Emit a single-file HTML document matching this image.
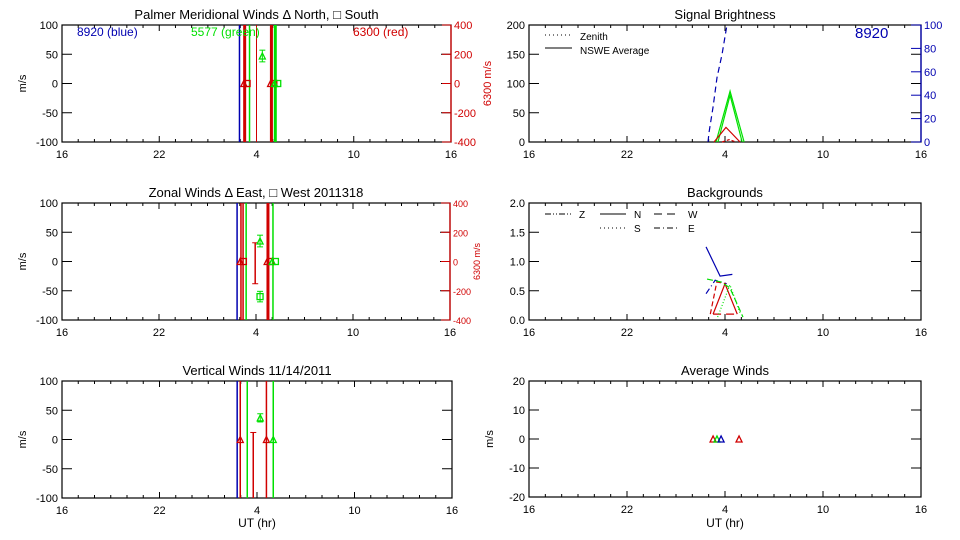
<!DOCTYPE html>
<html><head><meta charset="utf-8">
<style>
html,body{margin:0;padding:0;background:#fff;width:960px;height:540px;overflow:hidden}
svg{display:block;font-family:"Liberation Sans",sans-serif}
</style></head>
<body>
<svg id="chart" width="960" height="540" viewBox="0 0 960 540"></svg>
<script>
// ---------- data (hours: 16..40, where 28 = 04 UT) ----------
const xTickLabels = ["16","22","4","10","16"];
const mwTickLabels = ["-100","-50","0","50","100"];
const redAxisLabels = ["-400","-200","0","200","400"];
// Meridional
const merVLinesHr = [26.95,27.27,27.57,28.0,28.92,29.16];
const merVLinesColor = ["blue","red","green","red","red","green"];
const merVLinesWidth = [1.5,3,1.5,1,3,3];
const merPtsHr = [28.36];
const merPtsVal = [47];
const merPtsErr = [10];
const merZeroHr = [27.27,28.92,29.16];
const merZeroColor = ["red","red","green"];
// Zonal
const zonVLinesHr = [26.83,27.07,27.2,27.39,28.74,29.05];
const zonVLinesColor = ["blue","red","red","green","red","green"];
const zonVLinesWidth = [1.5,1.5,1.5,1.5,3,1.5];
const zonErrHr = [27.95];
const zonErrLo = [-38];
const zonErrHi = [32];
const zonPtsHr = [28.25,28.25];
const zonPtsVal = [35,-60];
const zonPtsErr = [10,9];
const zonZeroHr = [27.07,28.74,29.05];
const zonZeroColor = ["red","red","green"];
// Vertical
const verVLinesHr = [26.78,26.97,27.4,28.58,29.0];
const verVLinesColor = ["blue","red","green","red","green"];
const verErrHr = [27.77];
const verErrHi = [12];
const verPtsHr = [28.2];
const verPtsVal = [37];
const verPtsErr = [7];
const verZeroHr = [26.97,28.58,29.0];
const verZeroColor = ["red","red","green"];
// Signal brightness
const sigBlueHr = [26.96,27.02,27.27,27.51,27.82,28.12];
const sigBlueVal = [0,8,30,55,75,100];
const sigGreenHr = [27.45,28.31,29.17];
const sigGreenVal = [0,87,0];
const sigGreen2Hr = [27.57,28.31,29.05];
const sigGreen2Val = [0,80,0];
const sigRedHr = [27.33,28.06,28.92];
const sigRedVal = [0,25,0];
const sigRed2Hr = [27.82,28.25,28.68];
const sigRed2Val = [0,4,0];
// Backgrounds
const bgBlue1Hr = [26.84,27.7,28.45];
const bgBlue1Val = [1.25,0.75,0.78];
const bgBlue2Hr = [26.84,27.4,28.1];
const bgBlue2Val = [0.45,0.68,0.62];
const bgRed1Hr = [27.27,28.0,28.75];
const bgRed1Val = [0.1,0.62,0.1];
const bgRed2Hr = [27.1,27.5,28.0];
const bgRed2Val = [0.1,0.65,0.62];
const bgRed3Hr = [27.27,28.75];
const bgRed3Val = [0.1,0.1];
const bgGreen1Hr = [26.9,27.75,28.3,29.1];
const bgGreen1Val = [0.7,0.65,0.55,0.05];
const bgGreen2Hr = [27.55,28.3,28.95];
const bgGreen2Val = [0.05,0.6,0.1];
// Average winds
const avgHr = [27.27,27.51,27.76,28.86];
const avgVal = [0,0,0,0];
const avgColor = ["red","green","blue","red"];

const COL = {red:"#d00000", green:"#00e000", blue:"#0000b0", black:"#000"};
const NS = "http://www.w3.org/2000/svg";
const svg = document.getElementById("chart");
function mk(tag, attrs, parent, text){
  const e = document.createElementNS(NS, tag);
  for (const k in attrs) e.setAttribute(k, attrs[k]);
  if (text !== undefined) e.textContent = text;
  (parent||svg).appendChild(e);
  return e;
}
function panel(name, x0, x1, y0, y1, ymin, ymax, yticks, ylabels, title, ylabel){
  const g = mk("g", {});
  
  
  const sx = h => x0 + (h-16)/24*(x1-x0);
  const sy = v => y1 - (v-ymin)/(ymax-ymin)*(y1-y0);
  mk("rect",{x:x0,y:y0,width:x1-x0,height:y1-y0,fill:"none",stroke:"#000","stroke-width":1.2},g);
  for (let h=16; h<=40; h++){
    const major = (h-16)%6===0;
    const L = major?6:3;
    mk("line",{x1:sx(h),x2:sx(h),y1:y1,y2:y1-L,stroke:"#000"},g);
    mk("line",{x1:sx(h),x2:sx(h),y1:y0,y2:y0+L,stroke:"#000"},g);
  }
  xTickLabels.forEach((t,i)=>{
    const tx = mk("text",{x:sx(16+6*i),y:y1+16,"font-size":11,"text-anchor":"middle"},g,t);
    
    
  });
  yticks.forEach((v,i)=>{
    mk("line",{x1:x0,x2:x0+10,y1:sy(v),y2:sy(v),stroke:"#000"},g);
    mk("line",{x1:x1,x2:x1-10,y1:sy(v),y2:sy(v),stroke:"#000"},g);
    const tx = mk("text",{x:x0-4,y:sy(v)+4,"font-size":11,"text-anchor":"end"},g,ylabels[i]);
    
    
  });
  const tt = mk("text",{x:(x0+x1)/2,y:y0-6,"font-size":13,"text-anchor":"middle"},g,title);
  
  
  if (ylabel){
    const yl = mk("text",{x:0,y:0,"font-size":11,"text-anchor":"middle",transform:`translate(${x0-36},${(y0+y1)/2}) rotate(-90)`},g,ylabel);
    
    
  }
  return {g,sx,sy};
}
function vlines(p, hrs, cols, widths, y0, y1){
  hrs.forEach((h,i)=>{
    const l = mk("line",{x1:p.sx(h),x2:p.sx(h),y1:y0,y2:y1,stroke:COL[cols[i]],"stroke-width":widths?widths[i]:1.5},p.g);
    
    
  });
}
function errpt(p, h, v, e, col, sq){
  const x=p.sx(h);
  mk("line",{x1:x,x2:x,y1:p.sy(v-e),y2:p.sy(v+e),stroke:COL[col]},p.g);
  mk("line",{x1:x-3,x2:x+3,y1:p.sy(v-e),y2:p.sy(v-e),stroke:COL[col]},p.g);
  mk("line",{x1:x-3,x2:x+3,y1:p.sy(v+e),y2:p.sy(v+e),stroke:COL[col]},p.g);
  marker(p,h,v,col,sq);
}
function marker(p,h,v,col,sq){
  const x=p.sx(h), y=p.sy(v);
  let m;
  if (sq) m = mk("rect",{x:x-3,y:y-3,width:6,height:6,fill:"none",stroke:COL[col],"stroke-width":1.3},p.g);
  else m = mk("polygon",{points:`${x-3},${y+3} ${x+3},${y+3} ${x},${y-3}`,fill:"none",stroke:COL[col],"stroke-width":1.3},p.g);
  
  
}
function line(p, hrs, vals, col, dash, sy){
  const f = sy||p.sy;
  const pts = hrs.map((h,i)=>`${p.sx(h)},${f(vals[i])}`).join(" ");
  const l = mk("polyline",{points:pts,fill:"none",stroke:COL[col],"stroke-width":1.2,"stroke-dasharray":dash||"none"},p.g);
  
  
}
function redAxis(p, x, y0, y1, fs, lblX){
  mk("line",{x1:x,x2:x,y1:y0,y2:y1,stroke:COL.red,"stroke-width":1.3},p.g);
  redAxisLabels.forEach((t,i)=>{
    const y = y1 - i*(y1-y0)/4;
    mk("line",{x1:x-9,x2:x,y1:y,y2:y,stroke:COL.red},p.g);
    const tx = mk("text",{x:x+3,y:y+4,"font-size":fs,fill:COL.red},p.g,t);
    
    
  });
  const tl = mk("text",{x:0,y:0,"font-size":fs,fill:COL.red,"text-anchor":"middle",transform:`translate(${lblX},${(y0+y1)/2}) rotate(-90)`},p.g,"6300 m/s");
  
  
}
const wTicks=[-100,-50,0,50,100];

// Meridional
let p = panel("meridional-panel",62,451,25,142,-100,100,wTicks,mwTickLabels,"Palmer Meridional Winds \u0394 North, \u25A1 South","m/s");
vlines(p,merVLinesHr,merVLinesColor,merVLinesWidth,25,142);
merPtsHr.forEach((h,i)=>errpt(p,h,merPtsVal[i],merPtsErr[i],"green",false));
merZeroHr.forEach((h,i)=>{marker(p,h-0.05,0,merZeroColor[i],false);marker(p,h+0.15,0,merZeroColor[i],true);});
redAxis(p,451,25,142,11,491);
[["8920 (blue)",77,"blue"],["5577 (green)",191,"green"],["6300 (red)",353,"red"]].forEach(a=>{
  const t=mk("text",{x:a[1],y:36,"font-size":12,fill:COL[a[2]]},p.g,a[0]);
  
  
});

// Zonal
p = panel("zonal-panel",62,450,203,320,-100,100,wTicks,mwTickLabels,"Zonal Winds \u0394 East, \u25A1 West 2011318","m/s");
vlines(p,zonVLinesHr,zonVLinesColor,zonVLinesWidth,203,320);
zonErrHr.forEach((h,i)=>{const x=p.sx(h);
  mk("line",{x1:x,x2:x,y1:p.sy(zonErrLo[i]),y2:p.sy(zonErrHi[i]),stroke:COL.red,"stroke-width":1.5},p.g);
  mk("line",{x1:x-3,x2:x+3,y1:p.sy(zonErrLo[i]),y2:p.sy(zonErrLo[i]),stroke:COL.red},p.g);
  mk("line",{x1:x-3,x2:x+3,y1:p.sy(zonErrHi[i]),y2:p.sy(zonErrHi[i]),stroke:COL.red},p.g);});
zonPtsHr.forEach((h,i)=>errpt(p,h,zonPtsVal[i],zonPtsErr[i],"green",i===1));
zonZeroHr.forEach((h,i)=>{marker(p,h-0.05,0,zonZeroColor[i],false);marker(p,h+0.15,0,zonZeroColor[i],true);});
redAxis(p,450,203,320,9,480);

// Vertical
p = panel("vertical-panel",62,452,381,498,-100,100,wTicks,mwTickLabels,"Vertical Winds 11/14/2011","m/s");
vlines(p,verVLinesHr,verVLinesColor,null,381,498);
verErrHr.forEach((h,i)=>{const x=p.sx(h);
  mk("line",{x1:x,x2:x,y1:498,y2:p.sy(verErrHi[i]),stroke:COL.red,"stroke-width":1.5},p.g);
  mk("line",{x1:x-3,x2:x+3,y1:p.sy(verErrHi[i]),y2:p.sy(verErrHi[i]),stroke:COL.red},p.g);});
verPtsHr.forEach((h,i)=>errpt(p,h,verPtsVal[i],verPtsErr[i],"green",false));
verZeroHr.forEach((h,i)=>marker(p,h,0,verZeroColor[i],false));
let xt = mk("text",{x:257,y:527,"font-size":12,"text-anchor":"middle"},p.g,"UT (hr)");
 

// Signal brightness
p = panel("signal-brightness-panel",529,921,25,142,0,200,[0,50,100,150,200],["0","50","100","150","200"],"Signal Brightness",null);
const syR = v => 142 - v/100*117;
mk("line",{x1:921,x2:921,y1:25,y2:142,stroke:COL.blue,"stroke-width":1.3},p.g);
[0,20,40,60,80,100].forEach(v=>{
  mk("line",{x1:911,x2:921,y1:syR(v),y2:syR(v),stroke:COL.blue},p.g);
  const t=mk("text",{x:924,y:syR(v)+4,"font-size":11,fill:COL.blue},p.g,String(v));
   
});
line(p,sigBlueHr,sigBlueVal,"blue","6,4",syR);
line(p,sigGreenHr,sigGreenVal,"green");
line(p,sigGreen2Hr,sigGreen2Val,"green");
line(p,sigRedHr,sigRedVal,"red");
line(p,sigRed2Hr,sigRed2Val,"red","3,2");
let t8=mk("text",{x:855,y:38,"font-size":15,fill:COL.blue},p.g,"8920");
 
mk("line",{x1:545,x2:572,y1:35,y2:35,stroke:"#000","stroke-dasharray":"1,3"},p.g);
mk("text",{x:580,y:40,"font-size":10},p.g,"Zenith");
mk("line",{x1:545,x2:572,y1:48,y2:48,stroke:"#000"},p.g);
mk("text",{x:580,y:54,"font-size":10},p.g,"NSWE Average");

// Backgrounds
p = panel("backgrounds-panel",529,921,203,320,0,2,[0,0.5,1,1.5,2],["0.0","0.5","1.0","1.5","2.0"],"Backgrounds",null);
line(p,bgBlue1Hr,bgBlue1Val,"blue");
line(p,bgBlue2Hr,bgBlue2Val,"blue","6,3,1,3");
line(p,bgRed1Hr,bgRed1Val,"red");
line(p,bgRed2Hr,bgRed2Val,"red","5,3");
line(p,bgRed3Hr,bgRed3Val,"red","8,5");
line(p,bgGreen1Hr,bgGreen1Val,"green","6,3");
line(p,bgGreen2Hr,bgGreen2Val,"green","1,2");
[["Z",545,214,"6,2,1,2,1,2"],["N",600,214,"none"],["W",654,214,"8,5"],["S",600,228,"1,3"],["E",654,228,"6,3,1,3"]].forEach(a=>{
  mk("line",{x1:a[1],x2:a[1]+26,y1:a[2],y2:a[2],stroke:"#000","stroke-dasharray":a[3]},p.g);
  const t=mk("text",{x:a[1]+34,y:a[2]+4,"font-size":10},p.g,a[0]);
   
});

// Average winds
p = panel("average-winds-panel",529,921,381,497,-20,20,[-20,-10,0,10,20],["-20","-10","0","10","20"],"Average Winds","m/s");
avgHr.forEach((h,i)=>marker(p,h,avgVal[i],avgColor[i],false));
xt = mk("text",{x:725,y:527,"font-size":12,"text-anchor":"middle"},p.g,"UT (hr)");
 
</script>
</body></html>
